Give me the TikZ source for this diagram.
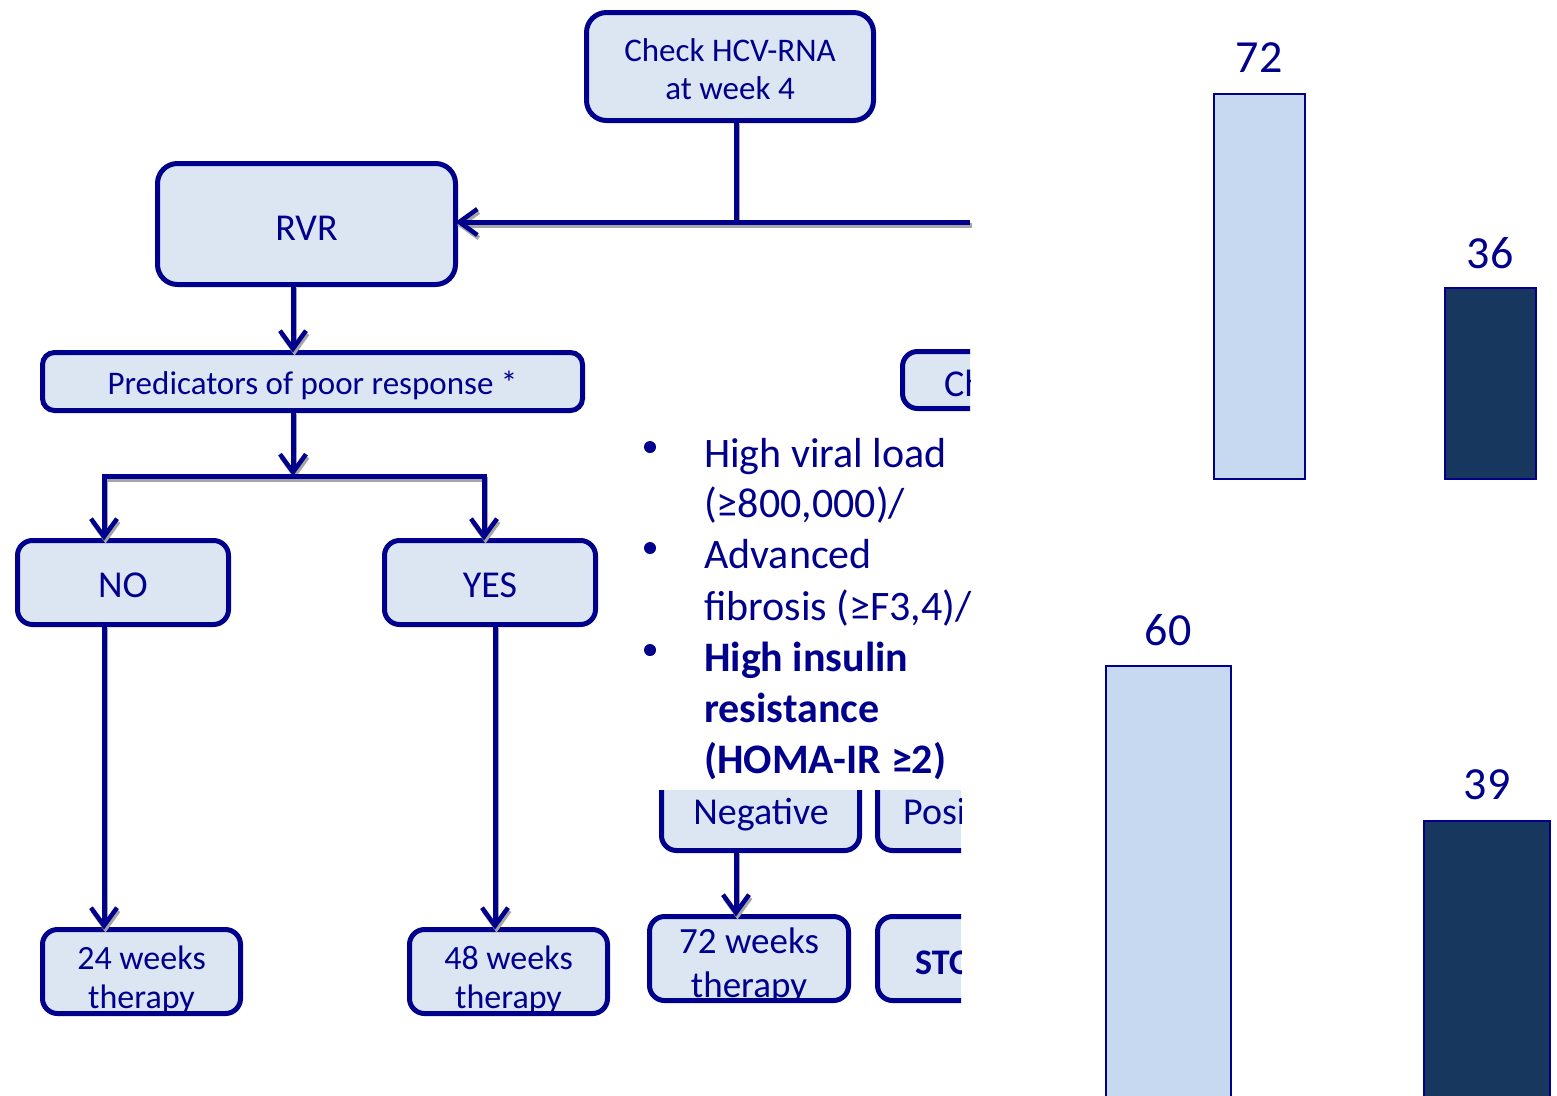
\documentclass[tikz,border=0pt]{standalone}
\usepackage{fontspec}
\setmainfont{Carlito}
\usetikzlibrary{arrows.meta}
\definecolor{navy}{RGB}{0,0,140}
\definecolor{boxfill}{RGB}{220,230,242}
\definecolor{barlight}{RGB}{198,217,241}
\definecolor{bardark}{RGB}{24,55,94}
\definecolor{shadowgray}{RGB}{165,165,165}
\begin{document}
\begin{tikzpicture}[x=1pt,y=-1pt,
  box/.style={draw=navy, line width=5pt, fill=boxfill, rounded corners=20pt,
    inner sep=0pt, outer sep=0pt},
  sbox/.style={box, rounded corners=15pt},
  conn/.style={draw=navy, line width=5pt,
    preaction={draw=shadowgray, line width=5pt, transform canvas={shift={(1.5pt,-3pt)}}}},
  tipv/.tip={Straight Barb[length=18pt,width=26pt,line width=4.5pt]},
  arr/.style={conn, -tipv},
  bar/.style={draw=navy, line width=2.5pt},
  lbl/.style={text=navy, inner sep=0pt, font=\fontsize{46}{54}\selectfont},
  blt/.style={text=navy, inner sep=0pt, anchor=base west, font=\fontsize{42}{51}\selectfont},
  txt/.style={text=navy, inner sep=0pt, align=center},
]
\useasboundingbox (0,0) rectangle (1557,1095);
\clip (0,0) rectangle (1557,1095);

% ---- flowchart boxes
\node[box, minimum width=287pt, minimum height=108pt] (top) at (730,66.5) {};
\node[txt, font=\fontsize{33}{38}\selectfont] (topt) at (730,69.5) {Check HCV-RNA\\at week 4};
\node[box, minimum width=298pt, minimum height=121pt] (rvr) at (306.5,224) {};
\node[txt, font=\fontsize{38}{44}\selectfont] (rvrt) at (306.5,228) {RVR};
\node[box, rounded corners=12pt, minimum width=540pt, minimum height=58pt] (pred) at (312.5,381.5) {};
\node[txt, font=\fontsize{33}{38}\selectfont] (predt) at (312.5,385) {Predicators of poor response *};
\node[sbox, minimum width=211pt, minimum height=84pt] (no) at (123,582.5) {};
\node[txt, font=\fontsize{38}{44}\selectfont] (not) at (123,585.5) {NO};
\node[sbox, minimum width=211pt, minimum height=84pt] (yes) at (490,582.5) {};
\node[txt, font=\fontsize{38}{44}\selectfont] (yest) at (490,585.5) {YES};
\node[sbox, minimum width=198pt, minimum height=84pt] (w24) at (141.5,971.5) {};
\node[txt, font=\fontsize{34}{39}\selectfont] (w24t) at (141.5,979.5) {24 weeks\\therapy};
\node[sbox, minimum width=198pt, minimum height=84pt] (w48) at (508.5,971.5) {};
\node[txt, font=\fontsize{34}{39}\selectfont] (w48t) at (508.5,979.5) {48 weeks\\therapy};
\node[sbox, minimum width=199pt, minimum height=84pt] (w72) at (749,958.5) {};
\node[txt, font=\fontsize{37}{44}\selectfont] (w72t) at (749,965.5) {72 weeks\\therapy};

% ---- clipped boxes
\begin{scope}
  \clip (0,0) rectangle (970,500);
  \node[sbox, minimum width=300pt, minimum height=57pt, anchor=west] (ch) at (902.5,380) {};
  \node[txt, anchor=west, font=\fontsize{38}{44}\selectfont] (cht) at (944,383) {Ch};
\end{scope}
\begin{scope}
  \clip (0,790) rectangle (961,1095);
  \node[sbox, minimum width=198pt, minimum height=84pt] (neg) at (760.5,808.5) {};
  \node[txt, font=\fontsize{38}{44}\selectfont] (negt) at (761,815) {Negative};
  \node[sbox, minimum width=198pt, minimum height=84pt] (pos) at (976.5,808.5) {};
  \node[txt, anchor=west, font=\fontsize{38}{44}\selectfont] (post) at (903,812) {Posi};
\end{scope}
\begin{scope}
  \clip (0,0) rectangle (961,1095);
  \node[sbox, minimum width=199pt, minimum height=84pt] (stop) at (977,958.5) {};
  \node[txt, anchor=west, font=\bfseries\fontsize{36}{44}\selectfont] (stopt) at (915,963) {STO};
\end{scope}

% ---- connectors
\coordinate (hR) at (970,222);
\coordinate (xtop) at (736,0);
\coordinate (xa) at (293,0);
\coordinate (hB) at (0,476);
\coordinate (xno) at (104,0);
\coordinate (xyes) at (484,0);
\coordinate (xyes2) at (495,0);
\coordinate (xneg) at (736,0);

\draw[conn] (top.south -| xtop) -- (xtop |- hR);
\draw[arr] (hR) -- (rvr.east |- hR);
\draw[arr] (rvr.south -| xa) -- (pred.north -| xa);
\draw[arr] (pred.south -| xa) -- (xa |- hB);
\draw[conn, tipv-tipv] (no.north -| xno) -- (xno |- hB) -- (xyes |- hB) -- (yes.north -| xyes);
\draw[arr] (no.south -| xno) -- (w24.north -| xno);
\draw[arr] (yes.south -| xyes2) -- (w48.north -| xyes2);
\draw[arr] (neg.south -| xneg) -- (w72.north -| xneg);

% ---- bullet list
\fill[navy] (650,447) circle (6pt);
\fill[navy] (650,548) circle (6pt);
\fill[navy] (650,650) circle (6pt);
\node[blt] (b1) at (704,467) {High viral load};
\node[blt] (b2) at (704,517) {(≥800,000)/};
\node[blt] (b3) at (704,568) {Advanced};
\node[blt] (b4) at (704,620) {fibrosis (≥F3,4)/};
\node[blt, font=\bfseries\fontsize{42}{51}\selectfont] (b5) at (704,671) {High insulin};
\node[blt, font=\bfseries\fontsize{42}{51}\selectfont] (b6) at (704,722) {resistance};
\node[blt, font=\bfseries\fontsize{42}{51}\selectfont] (b7) at (704,773) {(HOMA-IR ≥2)};

% ---- bars
\draw[bar, fill=barlight] (1214,94) rectangle (1305,479);
\draw[bar, fill=bardark] (1445,288) rectangle (1536,479);
\draw[bar, fill=barlight] (1106,666) rectangle (1231,1100);
\draw[bar, fill=bardark] (1424,821) rectangle (1550,1100);
\node[lbl] (l72) at (1259,58) {72};
\node[lbl] (l36) at (1490,253) {36};
\node[lbl] (l60) at (1168,630) {60};
\node[lbl] (l39) at (1487,785) {39};
\end{tikzpicture}
\end{document}
